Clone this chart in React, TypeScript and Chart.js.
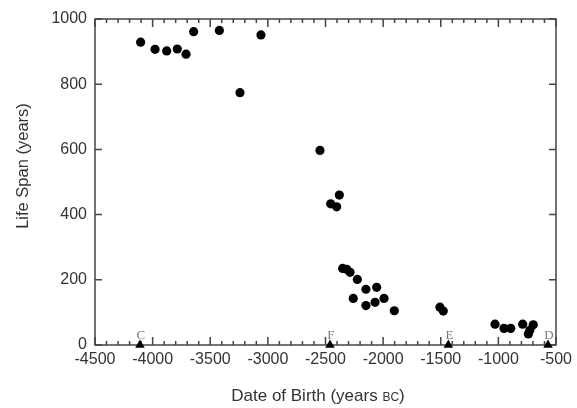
import React, { useEffect, useRef } from "react";
import { Chart, registerables } from "chart.js";

Chart.register(...registerables);

// Date of birth (years, negative = BC) and life span (years)
const births = [
  -4104, -3979, -3878, -3786, -3710, -3644, -3421, -3242, -3060, -2548,
  -2455, -2403, -2380, -2351, -2316, -2287, -2224, -2259, -2149, -2056,
  -2149, -2070, -1992, -1903, -1507, -1478, -1029, -951, -893, -789,
  -697, -740, -726,
];
const lifeSpans = [
  929, 907, 902, 908, 892, 961, 965, 774, 951, 597,
  433, 424, 460, 235, 232, 223, 201, 143, 171, 177,
  121, 131, 143, 105, 116, 104, 64, 51, 51, 64,
  62, 34, 46,
];

// Event markers on the time axis
const markerDates = [-4110, -2461, -1434, -569];
const markerLabels = ["C", "F", "E", "D"];

const xMin = -4500;
const xMax = -500;
const xMajorStep = 500;
const xMinorStep = 100;
const yMin = 0;
const yMax = 1000;
const yStep = 200;

const xTitleMain = "Date of Birth (years ";
const xTitleSmall = "BC";
const xTitleEnd = ")";
const yTitle = "Life Span (years)";

const SANS = "'Liberation Sans', Arial, Helvetica, sans-serif";
const SERIF = "'Liberation Serif', 'DejaVu Serif', serif";
const AXIS_COLOR = "#444";
const TEXT_COLOR = "#333";

const framePlugin = {
  id: "frameTicks",
  beforeDatasetsDraw(chart: any) {
    const { ctx, chartArea } = chart;
    const xs = chart.scales.x;
    const ys = chart.scales.y;
    const { left, right, top, bottom } = chartArea;
    ctx.save();
    ctx.strokeStyle = AXIS_COLOR;
    ctx.lineWidth = 1.5;
    ctx.strokeRect(left, top, right - left, bottom - top);
    ctx.beginPath();
    for (let v = xMin; v <= xMax; v += xMinorStep) {
      const px = xs.getPixelForValue(v);
      const len = (v - xMin) % xMajorStep === 0 ? 8 : 4;
      ctx.moveTo(px, bottom);
      ctx.lineTo(px, bottom - len);
      ctx.moveTo(px, top);
      ctx.lineTo(px, top + len);
    }
    for (let v = yMin; v <= yMax; v += yStep) {
      const py = ys.getPixelForValue(v);
      ctx.moveTo(left, py);
      ctx.lineTo(left + 7, py);
      ctx.moveTo(right, py);
      ctx.lineTo(right - 7, py);
    }
    ctx.stroke();
    ctx.restore();
  },
  afterDraw(chart: any) {
    const { ctx } = chart;
    const xs = chart.scales.x;
    const ys = chart.scales.y;
    ctx.save();
    // marker letters
    ctx.fillStyle = "#7a7a7a";
    ctx.font = `13px ${SERIF}`;
    ctx.textAlign = "center";
    ctx.textBaseline = "alphabetic";
    markerDates.forEach((d, i) => {
      ctx.fillText(markerLabels[i], xs.getPixelForValue(d) + 1, ys.getPixelForValue(0) - 6);
    });
    // x title with small caps BC
    ctx.fillStyle = TEXT_COLOR;
    ctx.textAlign = "left";
    const big = `17px ${SANS}`;
    const small = `12px ${SANS}`;
    ctx.font = big;
    const w1 = ctx.measureText(xTitleMain).width;
    const w3 = ctx.measureText(xTitleEnd).width;
    ctx.font = small;
    const w2 = ctx.measureText(xTitleSmall).width;
    const total = w1 + w2 + w3;
    const cx = 318;
    const x0 = cx - total / 2;
    const base = 401;
    ctx.font = big;
    ctx.fillText(xTitleMain, x0, base);
    ctx.font = small;
    ctx.fillText(xTitleSmall, x0 + w1, base);
    ctx.font = big;
    ctx.fillText(xTitleEnd, x0 + w1 + w2, base);
    // y title
    ctx.translate(23, 166);
    ctx.rotate(-Math.PI / 2);
    ctx.textAlign = "center";
    ctx.textBaseline = "middle";
    ctx.font = `16.5px ${SANS}`;
    ctx.fillText(yTitle, 0, 0);
    ctx.restore();
  },
};

export default function App() {
  const ref = useRef<HTMLCanvasElement | null>(null);
  useEffect(() => {
    document.body.style.margin = "0";
    if (!ref.current) return;
    const chart = new Chart(ref.current, {
      type: "scatter",
      data: {
        datasets: [
          {
            data: births.map((b, i) => ({ x: b, y: lifeSpans[i] })),
            backgroundColor: "#000",
            borderWidth: 0,
            pointRadius: 4.6,
            pointHoverRadius: 4.6,
          },
          {
            data: markerDates.map((d) => ({ x: d, y: 0 })),
            backgroundColor: "#000",
            borderColor: "#000",
            borderWidth: 0,
            pointStyle: "triangle",
            pointRadius: 5.5,
            clip: false,
          } as any,
        ],
      },
      options: {
        responsive: false,
        animation: false,
        events: [],
        layout: { padding: { top: 19, right: 21, left: 0, bottom: 0 } },
        plugins: { legend: { display: false }, tooltip: { enabled: false } },
        scales: {
          x: {
            type: "linear",
            min: xMin,
            max: xMax,
            ticks: {
              stepSize: xMajorStep,
              callback: (v: any) => String(v),
              font: { family: SANS, size: 16 },
              color: TEXT_COLOR,
              padding: 5,
              maxRotation: 0,
              autoSkip: false,
            },
            grid: { display: false, drawTicks: false },
            border: { display: false },
            afterFit: (s: any) => {
              s.height = 63;
            },
          },
          y: {
            type: "linear",
            min: yMin,
            max: yMax,
            ticks: {
              stepSize: yStep,
              callback: (v: any) => String(v),
              font: { family: SANS, size: 16 },
              color: TEXT_COLOR,
              padding: 8,
            },
            grid: { display: false, drawTicks: false },
            border: { display: false },
            afterFit: (s: any) => {
              s.width = 95;
            },
          },
        },
      },
      plugins: [framePlugin],
    });
    return () => chart.destroy();
  }, []);
  return <canvas ref={ref} width={577} height={408} style={{ display: "block" }} />;
}
